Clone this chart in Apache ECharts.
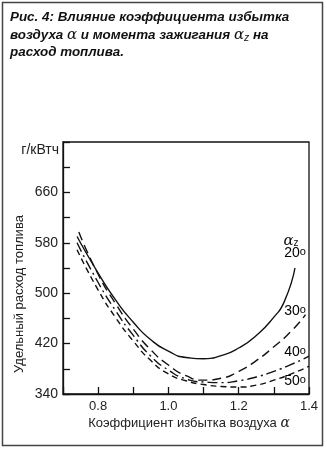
<!DOCTYPE html>
<html><head><meta charset="utf-8">
<script src="https://cdn.jsdelivr.net/npm/echarts@6/dist/echarts.min.js"></script>
<style>html,body{margin:0;padding:0;background:#fff}#c{width:327px;height:449px}</style>
</head><body><div id="c"></div><script>
// Data: specific fuel consumption (g/kWh) vs excess-air ratio alpha, per ignition angle
const alpha20 = [0.74, 0.80, 0.85, 0.90, 0.95, 1.00, 1.05, 1.10, 1.15, 1.20, 1.25, 1.30, 1.33, 1.36];
const sfc20   = [590, 532, 489, 454, 426, 408, 398, 396, 401, 413, 433, 462, 487, 540];
const alpha30 = [0.745, 0.80, 0.85, 0.90, 0.95, 1.00, 1.05, 1.10, 1.15, 1.20, 1.25, 1.30, 1.35, 1.39];
const sfc30   = [597, 530, 483, 443, 410, 386, 369, 362, 365, 376, 393, 415, 440, 466];
const alpha40 = [0.74, 0.80, 0.85, 0.90, 0.95, 1.00, 1.05, 1.10, 1.15, 1.20, 1.25, 1.30, 1.35, 1.40];
const sfc40   = [580, 517, 472, 433, 400, 378, 364, 359, 358, 361, 367, 376, 387, 400];
const alpha50 = [0.74, 0.80, 0.85, 0.90, 0.95, 1.00, 1.05, 1.10, 1.15, 1.20, 1.25, 1.30, 1.35, 1.40];
const sfc50   = [569, 505, 461, 424, 393, 372, 361, 355, 352, 351, 354, 362, 372, 384];
const angleLabels = ['20', '30', '40', '50'];
const yLabelValues = [340, 420, 500, 580, 660];
const xLabelValues = [0.8, 1.0, 1.2, 1.4];

const pairs = (xs, ys) => xs.map((x, i) => [x, ys[i]]);
const FONT = "'Liberation Sans', Arial, sans-serif";
const chart = echarts.init(document.getElementById('c'), null, {renderer: 'canvas'});

const lineBase = {type: 'line', smooth: 0.6, showSymbol: false, symbol: 'none', silent: true};
const angleText = (s) => '{n|' + s + '}{o|o}';
const angleRich = {n: {fontSize: 14, fontFamily: FONT, color: '#111'}, o: {fontSize: 11, fontFamily: FONT, color: '#111', verticalAlign: 'top', lineHeight: 12}};

chart.setOption({
  backgroundColor: '#fff',
  animation: false,
  grid: {left: 63, right: 18, top: 142, bottom: 55, show: true, borderColor: '#111', borderWidth: 1.3, backgroundColor: 'transparent'},
  xAxis: {
    type: 'value', min: 0.7, max: 1.4, interval: 0.1,
    axisLine: {show: true, onZero: false, lineStyle: {color: '#111', width: 1.3}},
    axisTick: {show: true, inside: true, length: 7, lineStyle: {color: '#111', width: 1.3}},
    splitLine: {show: false},
    axisLabel: {
      color: '#222', fontSize: 13, fontFamily: FONT, margin: 6,
      formatter: v => { const hit = xLabelValues.find(t => Math.abs(t - v) < 1e-6); return hit !== undefined ? hit.toFixed(1) : ''; }
    }
  },
  yAxis: {
    type: 'value', min: 340, max: 740, interval: 40,
    axisLine: {show: true, onZero: false, lineStyle: {color: '#111', width: 1.3}},
    axisTick: {show: true, inside: true, length: 7, lineStyle: {color: '#111', width: 1.3}},
    splitLine: {show: false},
    axisLabel: {
      color: '#222', fontSize: 14, fontFamily: FONT, margin: 5,
      formatter: v => yLabelValues.indexOf(Math.round(v)) >= 0 ? String(Math.round(v)) : ''
    }
  },
  series: [
    Object.assign({}, lineBase, {name: angleLabels[0], data: pairs(alpha20, sfc20), lineStyle: {color: '#111', width: 1.4}}),
    Object.assign({}, lineBase, {name: angleLabels[1], data: pairs(alpha30, sfc30), lineStyle: {color: '#111', width: 1.4, type: [9, 5]}}),
    Object.assign({}, lineBase, {name: angleLabels[2], data: pairs(alpha40, sfc40), lineStyle: {color: '#111', width: 1.4, type: [10, 4, 2, 4]}}),
    Object.assign({}, lineBase, {name: angleLabels[3], data: pairs(alpha50, sfc50), lineStyle: {color: '#111', width: 1.4, type: [6, 4]}})
  ],
  graphic: [
    {type: 'rect', shape: {x: 2.5, y: 2.5, width: 320, height: 443}, style: {fill: 'none', stroke: '#444', lineWidth: 1.5}, silent: true},
    {type: 'text', left: 10, top: 9, style: {
      text: 'Рис. 4: Влияние коэффициента избытка\nвоздуха {g|α} и момента зажигания {g|α}{s|z} на\nрасход топлива.',
      font: 'italic bold 13.4px ' + FONT, fill: '#111', lineHeight: 17.5,
      rich: {
        g: {fontStyle: 'italic', fontWeight: 'normal', fontSize: 15, fontFamily: "'DejaVu Serif', serif", fill: '#111', lineHeight: 17.5},
        s: {fontStyle: 'italic', fontWeight: 'normal', fontSize: 10.5, fontFamily: FONT, fill: '#111', verticalAlign: 'bottom', lineHeight: 13}
      }
    }},
    {type: 'text', x: 59, y: 150, style: {text: 'г/кВтч', font: '14px ' + FONT, fill: '#222', align: 'right', verticalAlign: 'middle'}},
    {type: 'text', x: 19, y: 294, rotation: Math.PI / 2, style: {text: 'Удельный расход топлива', font: '13px ' + FONT, fill: '#222', align: 'center', verticalAlign: 'middle'}},
    {type: 'text', x: 189, y: 423, style: {text: 'Коэффициент избытка воздуха {g|α}', font: '13px ' + FONT, fill: '#222', align: 'center', verticalAlign: 'middle',
      rich: {g: {fontStyle: 'italic', fontSize: 14, fontFamily: "'DejaVu Serif', serif", fill: '#222'}}}},
    {type: 'text', x: 291, y: 241, style: {text: '{g|α}{s|z}', align: 'center', verticalAlign: 'middle',
      rich: {g: {fontStyle: 'italic', fontSize: 15, fontFamily: "'DejaVu Serif', serif", fill: '#111'}, s: {fontSize: 10, fontFamily: FONT, fill: '#111', verticalAlign: 'bottom', lineHeight: 14}}}},
    {type: 'text', x: 295, y: 253, style: {text: angleText(angleLabels[0]), align: 'center', verticalAlign: 'middle', rich: angleRich}},
    {type: 'text', x: 295, y: 311, style: {text: angleText(angleLabels[1]), align: 'center', verticalAlign: 'middle', rich: angleRich}},
    {type: 'text', x: 295, y: 352, style: {text: angleText(angleLabels[2]), align: 'center', verticalAlign: 'middle', rich: angleRich}},
    {type: 'text', x: 295, y: 381, style: {text: angleText(angleLabels[3]), align: 'center', verticalAlign: 'middle', rich: angleRich}}
  ]
});
</script></body></html>
